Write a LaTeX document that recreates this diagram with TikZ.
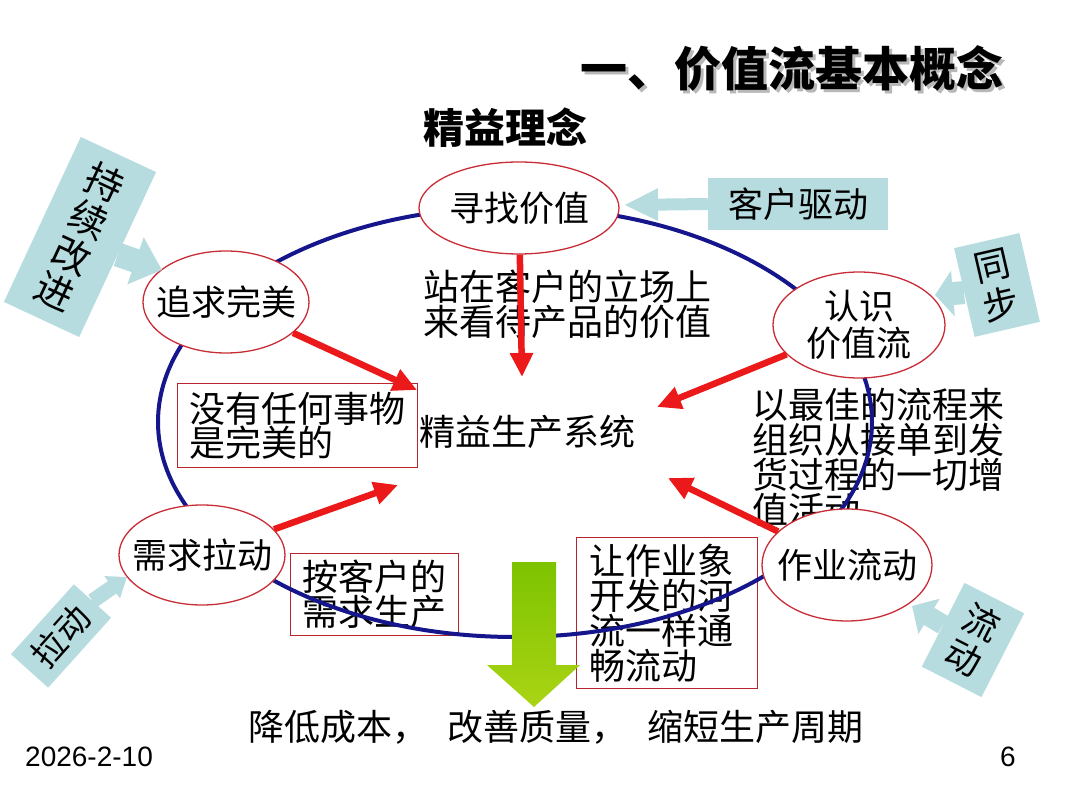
\documentclass[tikz,border=0pt]{standalone}
\usepackage{fontspec}
\usepackage{tikz}
\usepackage{xcolor}
\usetikzlibrary{shapes.geometric,arrows.meta}
\setmainfont{Noto Sans CJK SC}
\newfontfamily\datefont{Liberation Sans}
\definecolor{ringBlue}{RGB}{22,22,140}
\definecolor{ovalRed}{RGB}{200,45,55}
\definecolor{noteRed}{RGB}{185,35,45}
\definecolor{pushRed}{RGB}{235,25,25}
\definecolor{cueBlue}{RGB}{182,220,224}
\definecolor{leafGreen}{RGB}{125,195,0}
\definecolor{limeGreen}{RGB}{170,212,20}

\begin{document}
\begin{tikzpicture}[x=1pt, y=-1pt,
    headline/.style={inner sep=0pt, font=\bfseries\fontsize{47}{50}\selectfont},
    words/.style={inner sep=0pt, align=left, font=\fontsize{36}{35}\selectfont},
    oval/.style={ellipse, draw=ovalRed, line width=1.3pt, fill=white, inner sep=0pt},
    ovaltext/.style={inner sep=0pt, align=center, font=\fontsize{35}{37}\selectfont},
    note/.style={rectangle, draw=noteRed, line width=1.4pt, anchor=north west, inner xsep=12pt, inner ysep=0pt, align=left, font=\fontsize{36}{35}\selectfont},
    cue/.style={rectangle, fill=cueBlue, inner sep=0pt, align=center, font=\fontsize{36}{40}\selectfont},
    push/.style={pushRed, line width=6.5pt, -{Triangle[width=22pt,length=24pt]}},
    pointer/.style={cueBlue, line width=#1}
  ]
  \fill[white] (0,0) rectangle (1080,810);
  \useasboundingbox (0,0) rectangle (1080,810);

  \node[headline, text=black!28] (titleShade) at (795,71) {一、价值流基本概念};
  \node[headline] (title) at (792,68) {一、价值流基本概念};
  \node[headline, font=\bfseries\fontsize{41}{44}\selectfont] (idea) at (505,128) {精益理念};

  \node[words] (core) at (527,432) {精益生产系统};
  \node[words, anchor=north west] (stand) at (423,270) {站在客户的立场上\\来看待产品的价值};
  \node[words, anchor=north west] (organize) at (752,388) {以最佳的流程来\\组织从接单到发\\货过程的一切增\\值活动};
  \node[note, text width=216pt, minimum height=84pt, font=\fontsize{36}{33}\selectfont] (flawless) at (177,383) {没有任何事物\\是完美的};
  \node[note, text width=144pt, minimum height=82pt] (demand) at (290,553) {按客户的\\需求生产};
  \node[note, text width=155pt, inner xsep=13pt, minimum height=151pt] (river) at (576,537) {让作业象\\开发的河\\流一样通\\畅流动};

  \draw[ringBlue, line width=4pt] (515,422) ellipse [x radius=357pt, y radius=215pt];

  \node[oval, minimum width=200pt, minimum height=92pt, label={[ovaltext]center:寻找价值}] (seek) at (519,208) {};
  \node[oval, minimum width=166pt, minimum height=102pt, label={[ovaltext]center:追求完美}] (perfect) at (226,302) {};
  \node[oval, minimum width=172pt, minimum height=106pt, label={[ovaltext]center:认识\\价值流}] (identify) at (859,325) {};
  \node[oval, minimum width=166pt, minimum height=100pt, label={[ovaltext]center:需求拉动}] (pull) at (202,555) {};
  \node[oval, minimum width=170pt, minimum height=112pt, label={[ovaltext]center:作业流动}] (flow) at (847,565) {};

  \coordinate (seekTip) at (522,377);
  \coordinate (perfectTip) at (417,390);
  \coordinate (identifyTip) at (657,407);
  \coordinate (pullTip) at (398,485);
  \coordinate (flowTip) at (668,478);
  \draw[push] (seek) -- (seekTip);
  \draw[push] (perfect) -- (perfectTip);
  \draw[push] (identify) -- (identifyTip);
  \draw[push] (pull) -- (pullTip);
  \draw[push] (flow) -- (flowTip);

  \shade[top color=leafGreen, bottom color=limeGreen] (512,562) -- (556,562) -- (556,665) -- (580,665) -- (534,707) -- (487,665) -- (512,665) -- cycle;

  \node[cue, minimum width=180pt, minimum height=52pt, font=\fontsize{35}{38}\selectfont] (drive) at (798,204) {客户驱动};
  \coordinate (driveTip) at (624,205);
  \draw[pointer=12pt, -{Triangle[width=30pt,length=34pt]}] (drive.west) -- (driveTip);

  \node[cue, rotate=-25, minimum width=83pt, minimum height=182pt, font=\fontsize{38}{40}\selectfont] (improve) at (80,237) {持\\续\\改\\进};
  \coordinate (improveTip) at (162,270);
  \draw[pointer=24pt, -{Triangle[width=48pt,length=28pt]}] (improve.east) -- (improveTip);

  \node[cue, rotate=13, minimum width=67pt, minimum height=91pt] (sync) at (997,285) {同\\步};
  \coordinate (syncTip) at (935,295);
  \draw[pointer=23pt, -{Triangle[width=45pt,length=18pt]}] (sync.west) -- (syncTip);

  \node[cue, rotate=-27, minimum width=67pt, minimum height=94pt] (stream) at (973,640) {流\\动};
  \coordinate (streamTip) at (912,606);
  \draw[pointer=20pt, -{Triangle[width=40pt,length=20pt]}] (stream.west) -- (streamTip);

  \node[cue, rotate=48, minimum width=94pt, minimum height=50pt, font=\fontsize{34}{36}\selectfont] (drag) at (61,636) {拉动};
  \coordinate (dragTip) at (127,577);
  \draw[pointer=15pt, -{Triangle[width=26pt,length=18pt]}] (drag.east) -- (dragTip);

  \node[words] (gain) at (556,727) {降低成本，\hspace{20pt}改善质量，\hspace{20pt}缩短生产周期};
  \node[inner sep=0pt, anchor=west, font=\datefont\fontsize{28}{30}\selectfont] (date) at (25,757) {2026-2-10};
  \node[inner sep=0pt, anchor=east, font=\datefont\fontsize{28}{30}\selectfont] (page) at (1016,757) {6};
\end{tikzpicture}
\end{document}
